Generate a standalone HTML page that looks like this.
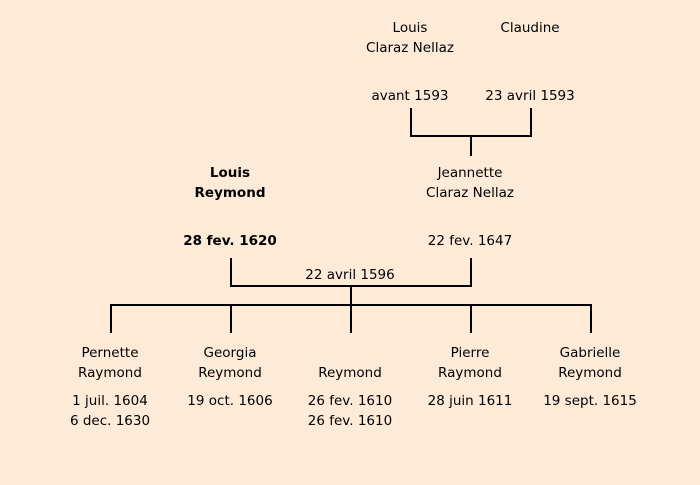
<!DOCTYPE html>
<html><head><meta charset="utf-8"><style>
html,body{margin:0;padding:0;}
body{width:700px;height:485px;background:#fdebd8;position:relative;overflow:hidden;font-family:"Comic Sans MS","DejaVu Sans",sans-serif;font-size:13.5px;color:#000;}
.t{position:absolute;width:160px;margin-left:-80px;text-align:center;line-height:20px;white-space:nowrap;}
.b{font-weight:bold;}
svg{position:absolute;left:0;top:0;}
</style></head><body>
<svg width="700" height="485">
<g stroke="#000" stroke-width="2" fill="none">
<path d="M411 108V136H531V108M471 136V156"/>
<path d="M231 258V286H471V258M351 286V305"/>
<path d="M111 333V305H591V333M231 305V333M351 305V333M471 305V333"/>
</g></svg>
<div class="t" style="left:410px;top:18px">Louis<br>Claraz Nellaz</div>
<div class="t" style="left:530px;top:18px">Claudine</div>
<div class="t" style="left:410px;top:86px">avant 1593</div>
<div class="t" style="left:530px;top:86px">23 avril 1593</div>
<div class="t b" style="left:230px;top:163px">Louis<br>Reymond</div>
<div class="t b" style="left:230px;top:231px">28 fev. 1620</div>
<div class="t" style="left:470px;top:163px">Jeannette<br>Claraz Nellaz</div>
<div class="t" style="left:470px;top:231px">22 fev. 1647</div>
<div class="t" style="left:350px;top:265px">22 avril 1596</div>
<div class="t" style="left:110px;top:343px">Pernette<br>Raymond</div>
<div class="t" style="left:110px;top:391px">1 juil. 1604<br>6 dec. 1630</div>
<div class="t" style="left:230px;top:343px">Georgia<br>Reymond</div>
<div class="t" style="left:230px;top:391px">19 oct. 1606</div>
<div class="t" style="left:350px;top:363px">Reymond</div>
<div class="t" style="left:350px;top:391px">26 fev. 1610<br>26 fev. 1610</div>
<div class="t" style="left:470px;top:343px">Pierre<br>Raymond</div>
<div class="t" style="left:470px;top:391px">28 juin 1611</div>
<div class="t" style="left:590px;top:343px">Gabrielle<br>Reymond</div>
<div class="t" style="left:590px;top:391px">19 sept. 1615</div>
</body></html>
